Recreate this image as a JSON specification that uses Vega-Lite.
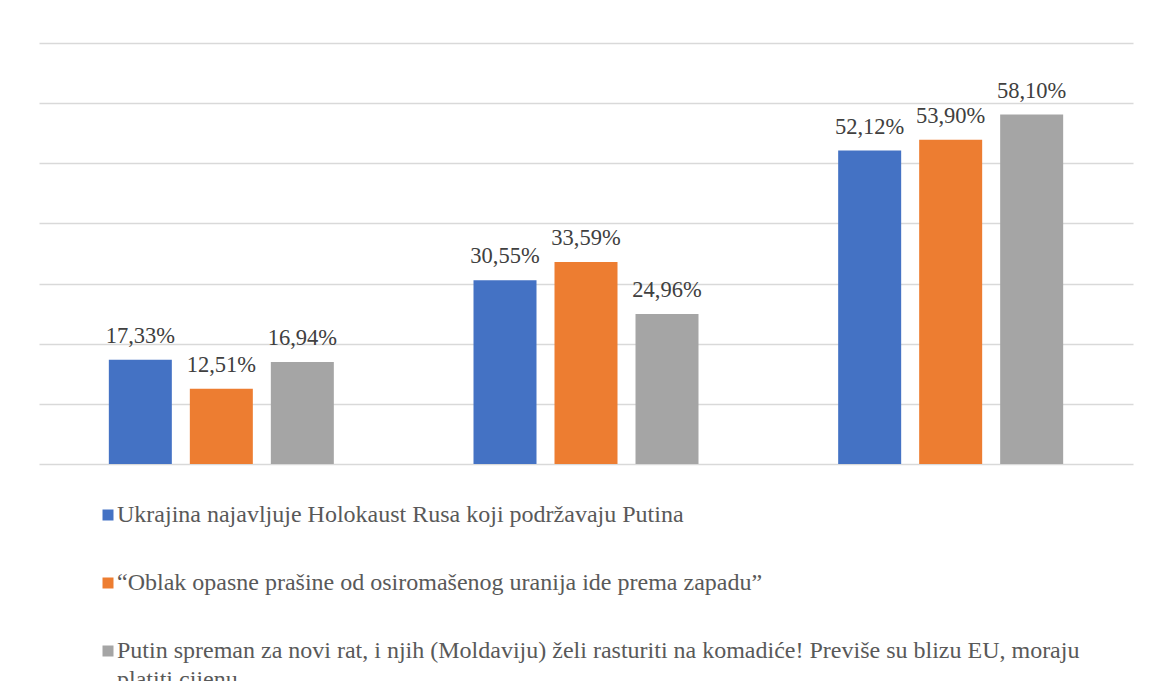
{
  "$schema": "https://vega.github.io/schema/vega-lite/v6.json",
  "width": 1094,
  "height": 421,
  "autosize": {"type": "none"},
  "padding": {"left": 39, "top": 43, "right": 16, "bottom": 217},
  "background": "white",
  "config": {
    "view": {"stroke": null},
    "font": "Liberation Serif",
    "style": {"guide-label": {"lineHeight": 29}},
    "locale": {"number": {"decimal": ",", "thousands": ".", "grouping": [3], "currency": ["", " €"]}}
  },
  "data": {
    "values": [
      {"grupa": "1", "serija": "Ukrajina najavljuje Holokaust Rusa koji podržavaju Putina", "udio": 0.1733},
      {"grupa": "1", "serija": "“Oblak opasne prašine od osiromašenog uranija ide prema zapadu”", "udio": 0.1251},
      {"grupa": "1", "serija": "Putin spreman za novi rat, i njih (Moldaviju) želi rasturiti na komadiće! Previše su blizu EU, moraju platiti cijenu", "udio": 0.1694},
      {"grupa": "2", "serija": "Ukrajina najavljuje Holokaust Rusa koji podržavaju Putina", "udio": 0.3055},
      {"grupa": "2", "serija": "“Oblak opasne prašine od osiromašenog uranija ide prema zapadu”", "udio": 0.3359},
      {"grupa": "2", "serija": "Putin spreman za novi rat, i njih (Moldaviju) želi rasturiti na komadiće! Previše su blizu EU, moraju platiti cijenu", "udio": 0.2496},
      {"grupa": "3", "serija": "Ukrajina najavljuje Holokaust Rusa koji podržavaju Putina", "udio": 0.5212},
      {"grupa": "3", "serija": "“Oblak opasne prašine od osiromašenog uranija ide prema zapadu”", "udio": 0.5390},
      {"grupa": "3", "serija": "Putin spreman za novi rat, i njih (Moldaviju) želi rasturiti na komadiće! Previše su blizu EU, moraju platiti cijenu", "udio": 0.5810}
    ]
  },
  "encoding": {
    "x": {"field": "grupa", "type": "nominal", "axis": null, "scale": {"paddingInner": 0.383, "paddingOuter": 0.1915}},
    "xOffset": {
      "field": "serija", "type": "nominal",
      "sort": ["Ukrajina najavljuje Holokaust Rusa koji podržavaju Putina", "“Oblak opasne prašine od osiromašenog uranija ide prema zapadu”", "Putin spreman za novi rat, i njih (Moldaviju) želi rasturiti na komadiće! Previše su blizu EU, moraju platiti cijenu"],
      "scale": {"paddingInner": 0.2222, "paddingOuter": 0}
    },
    "y": {
      "field": "udio", "type": "quantitative",
      "scale": {"domain": [0, 0.7]},
      "axis": {"values": [0, 0.1, 0.2, 0.3, 0.4, 0.5, 0.6, 0.7], "labels": false, "ticks": false, "domain": false, "grid": true, "gridColor": "#d9d9d9", "gridWidth": 1.5, "title": null}
    }
  },
  "layer": [
    {
      "mark": {"type": "bar"},
      "encoding": {
        "color": {
          "field": "serija", "type": "nominal",
          "scale": {
            "domain": ["Ukrajina najavljuje Holokaust Rusa koji podržavaju Putina", "“Oblak opasne prašine od osiromašenog uranija ide prema zapadu”", "Putin spreman za novi rat, i njih (Moldaviju) želi rasturiti na komadiće! Previše su blizu EU, moraju platiti cijenu"],
            "range": ["#4472C4", "#ED7D31", "#A5A5A5"]
          },
          "legend": {
            "orient": "none", "legendX": 57, "legendY": 460, "direction": "vertical", "title": null,
            "symbolType": "square", "symbolSize": 121, "symbolStrokeWidth": 0, "symbolOpacity": 1,
            "labelFont": "Liberation Serif", "labelFontSize": 24, "labelColor": "#595959", "labelLimit": 1100,
            "labelOffset": -3, "rowPadding": 44,
            "labelExpr": "indexof(datum.label, 'Putin spreman') == 0 ? [substring(datum.label, 0, indexof(datum.label, 'moraju') + 6), substring(datum.label, indexof(datum.label, 'moraju') + 7)] : datum.label"
          }
        }
      }
    },
    {
      "mark": {"type": "text", "baseline": "alphabetic", "dy": -17, "fontSize": 22.5, "color": "#404040", "font": "Liberation Serif"},
      "encoding": {"text": {"field": "udio", "type": "quantitative", "format": ".2%"}}
    }
  ]
}
